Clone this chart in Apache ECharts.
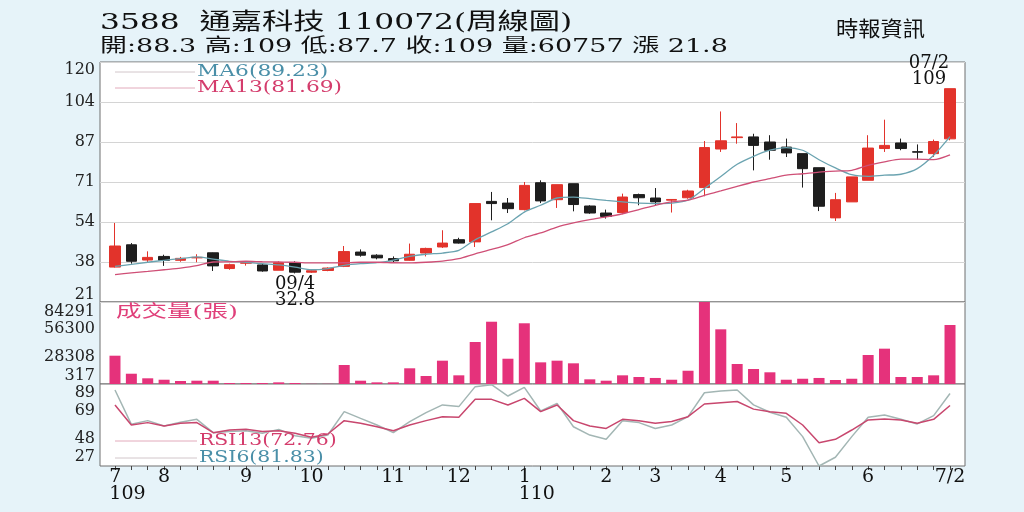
<!DOCTYPE html>
<html>
<head>
<meta charset="utf-8">
<script src="https://cdn.jsdelivr.net/npm/echarts@6/dist/echarts.min.js"></script>
<style>
html,body{margin:0;padding:0;background:#e6f3f9;}
#c{width:1024px;height:512px;}
</style>
</head>
<body>
<div id="c"></div>
<script>
// ---- data ----
const categories = [
 '109/07/10','109/07/17','109/07/24','109/07/31','109/08/07','109/08/14','109/08/21','109/08/28',
 '109/09/04','109/09/11','109/09/18','109/09/25','109/10/02','109/10/09','109/10/16','109/10/23','109/10/30',
 '109/11/06','109/11/13','109/11/20','109/11/27','109/12/04','109/12/11','109/12/18','109/12/25',
 '110/01/01','110/01/08','110/01/15','110/01/22','110/01/29','110/02/05','110/02/12','110/02/19','110/02/26',
 '110/03/05','110/03/12','110/03/19','110/03/26','110/04/02','110/04/09','110/04/16','110/04/23','110/04/30',
 '110/05/07','110/05/14','110/05/21','110/05/28','110/06/04','110/06/11','110/06/18','110/06/25','110/07/02'
];
const open  = [35.4,44.6,38.3,39.8,38.2,39.2,41.3,34.8,37.0,36.3,34.1,37.2,33.3,34.0,35.7,41.6,40.3,38.9,38.2,41.2,43.7,46.7,45.8,62.5,61.8,59.1,70.2,63.2,69.8,60.6,57.7,57.9,65.3,63.9,63.0,64.0,68.2,84.1,88.8,89.1,87.0,84.9,82.2,76.4,55.7,62.3,71.2,84.3,86.6,83.0,82.2,88.3];
const close = [44.1,37.8,39.4,38.2,39.0,39.4,35.9,36.4,37.2,33.8,37.2,33.3,33.9,35.0,41.8,40.3,39.2,38.0,40.7,43.1,45.3,45.3,61.6,61.6,59.5,69.1,62.7,69.4,61.2,57.7,56.3,64.3,64.0,62.3,63.3,66.8,84.7,87.5,89.1,85.6,83.6,82.5,76.0,60.5,63.2,72.6,84.5,85.6,84.3,82.8,87.2,109];
const low   = [35.2,36.8,37.1,35.9,37.6,37.4,33.8,34.3,36.0,33.5,34.1,32.8,33.0,33.7,35.4,39.7,38.6,37.5,38.0,39.8,43.3,45.1,43.7,54.7,57.7,58.8,61.8,59.8,58.4,57.4,55.4,57.2,60.9,60.9,57.9,63.6,64.6,82.9,86.3,75.3,79.7,80.8,68.2,58.5,54.4,62.3,71.2,82.9,83.6,79.7,80.8,87.7];
const high  = [53.6,45.3,41.9,40.5,39.6,40.7,41.4,36.8,37.9,36.8,37.8,37.8,34.2,35.3,44.1,42.7,40.7,39.8,45.1,43.4,50.6,47.5,61.6,66.4,63.9,70.5,71.2,69.4,69.8,60.9,59.1,65.7,65.7,68.0,63.4,67.3,87.4,99.6,94.8,90.4,89.8,88.4,82.2,76.4,66.0,72.6,89.8,96.2,88.4,86.0,88.0,109];
const ma6   = [35.7,36.5,37.4,38.2,38.9,39.6,38.7,37.8,37.4,36.8,36.3,35.4,34.3,34.8,36.1,36.8,37.2,38.3,39.8,40.7,41.2,42.3,46.7,49.9,53.3,58.1,60.9,63.9,64.3,63.6,62.9,62.3,61.8,61.6,61.8,63.0,67.8,72.8,77.8,81.1,83.6,84.7,83.6,79.7,76.3,73.5,72.8,73.3,73.7,76.0,81.5,89.23];
const ma13  = [32.3,33.0,33.6,34.3,35.0,36.0,37.5,37.6,37.8,37.6,37.5,37.4,37.1,37.1,37.2,37.4,37.4,37.2,37.1,37.4,37.9,38.9,40.9,42.7,44.7,47.5,49.5,51.9,53.6,55.0,56.1,57.4,59.1,60.9,62.3,63.0,65.0,66.8,68.7,70.5,71.9,73.3,73.9,74.6,75.0,75.3,77.4,78.8,79.9,79.9,79.7,81.69];
const volume = [29300,10850,6150,4700,3400,3700,3700,1300,1300,1300,2000,1300,500,500,19800,3700,2000,2000,16400,8500,24200,9200,43300,64100,26200,62500,22500,24200,21500,5100,3700,9200,7500,6500,4700,13900,84291,56300,20800,15700,12300,4700,5700,6500,4400,5700,30000,36500,7500,7500,9200,60757];
const rsi6  = [84.5,58.5,61.3,57.2,60.0,62.3,52.2,53.0,53.7,51.7,54.7,49.9,47.9,50.4,68.1,63.0,58.0,52.2,60.6,67.4,73.2,71.9,87.0,88.5,79.9,86.5,68.6,74.4,56.7,50.4,47.2,61.3,59.8,55.4,58.0,64.3,82.4,83.7,84.5,73.2,67.6,63.8,49.2,27.0,33.6,49.2,63.8,65.6,62.3,58.8,65.1,81.83];
const rsi13 = [73.1,58.0,59.8,57.2,59.3,59.8,52.2,54.2,54.7,53.0,53.7,51.7,48.7,51.2,61.3,59.3,56.6,53.7,58.0,61.3,64.3,63.8,77.4,77.4,73.1,78.1,68.1,73.1,61.3,57.2,55.4,62.3,61.3,59.3,60.6,64.3,73.9,74.9,75.8,70.0,68.1,66.8,58.0,44.6,47.2,54.2,61.8,62.6,61.8,59.3,62.3,72.76];
const priceTicks  = [21,38,54,71,87,104,120];
const volumeTicks = [317,28308,56300,84291];
const rsiTicks    = [27,48,69,89];
const monthTickIndex = [0,3,8,12,17,21,25,30,33,37,41,46,51];
const monthTickText  = ['7\n109','8','9','10','11','12','1\n110','2','3','4','5','6','7/2'];
const noteDates = ['09/4','07/2'];
const headerTitle = '3588  通嘉科技 110072(周線圖)';
const headerQuote = '開:88.3 高:109 低:87.7 收:109 量:60757 漲 21.8';
const sourceText = '時報資訊';
const maLegend = ['MA6(89.23)','MA13(81.69)'];
const rsiLegend = ['RSI13(72.76)','RSI6(81.83)'];
const volumeTitle = '成交量(張)';

// ---- chart ----
const chart = echarts.init(document.getElementById('c'));
const SERIF = '"DejaVu Serif","Noto Sans CJK TC"';
const FL = 100, FW = 865, DL = 106.8, DW = 851.4;
const panels = [{top:62,height:240},{top:302,height:82},{top:384,height:82}];
const grids = [];
panels.forEach(p => grids.push({left:FL,width:FW,top:p.top,height:p.height,show:true,backgroundColor:'#ffffff',borderColor:'#6e6e6e',borderWidth:1}));
panels.forEach(p => grids.push({left:DL,width:DW,top:p.top,height:p.height,show:false}));

function tickAxis(gridIndex, ticks, min, max, interval, split, padTop, padBot){
  const base = {fontFamily:'DejaVu Serif', fontSize:16, color:'#222'};
  return {
    type:'value', gridIndex, min, max, interval,
    axisLine:{show:false}, axisTick:{show:false},
    splitLine:{show:split, lineStyle:{color:'#d4d4d4', width:1}},
    axisLabel:Object.assign({}, base, {
      margin:5, showMinLabel:true, showMaxLabel:true,
      formatter:(v,i) => {
        if (i >= ticks.length) return '';
        const t = String(ticks[i]);
        if (i === 0) return '{b|' + t + '}';
        if (i === ticks.length - 1) return '{t|' + t + '}';
        return t;
      },
      rich:{
        t:Object.assign({}, base, {padding:[padTop,0,0,0]}),
        b:Object.assign({}, base, {padding:[0,0,padBot,0]})
      }
    })
  };
}

const lowIdx = low.indexOf(Math.min.apply(null, low));
const lastIdx = categories.length - 1;
const xLabelBase = {fontFamily:'DejaVu Serif', fontSize:19, color:'#111', lineHeight:17};

const option = {
  animation:false,
  backgroundColor:'#e6f3f9',
  grid:grids,
  xAxis:[
    {type:'value', gridIndex:0, show:false, min:0, max:1},
    {type:'value', gridIndex:1, show:false, min:0, max:1},
    {type:'value', gridIndex:2, show:false, min:0, max:1},
    {type:'category', gridIndex:3, data:categories, show:false},
    {type:'category', gridIndex:4, data:categories, show:false},
    {type:'category', gridIndex:5, data:categories,
      axisLine:{show:false},
      axisTick:{show:true, alignWithLabel:true, interval:0, length:4, lineStyle:{color:'#444'}},
      splitLine:{show:false},
      axisLabel:Object.assign({}, xLabelBase, {
        margin:3,
        interval:(i) => monthTickIndex.indexOf(i) >= 0,
        formatter:(v,i) => {
          const k = monthTickIndex.indexOf(i);
          if (k < 0) return '';
          const t = monthTickText[k];
          if (t.indexOf('\n') >= 0) return t.split('\n').map(s => '{m|' + s + '}').join('\n');
          return t;
        },
        rich:{m:Object.assign({}, xLabelBase, {align:'left', padding:[0,0,0,25]})}
      })
    }
  ],
  yAxis:[
    tickAxis(0, priceTicks, 21, 120, 16.5, true, 16, 14),
    tickAxis(1, volumeTicks, 317, 84291, (84291-317)/3, false, 20, 16),
    tickAxis(2, rsiTicks, 27, 89, 62/3, false, 18, 18),
    {type:'value', gridIndex:3, min:21, max:120, show:false},
    {type:'value', gridIndex:4, min:317, max:84291, show:false},
    {type:'value', gridIndex:5, min:27, max:89, show:false}
  ],
  series:[
    {
      type:'candlestick', xAxisIndex:3, yAxisIndex:3, barWidth:11,
      data:categories.map((c,i) => [open[i], close[i], low[i], high[i]]),
      itemStyle:{color:'#e2332b', color0:'#1e1e1e', borderColor:'#e2332b', borderColor0:'#1e1e1e', borderWidth:1},
      markPoint:{
        symbol:'circle', symbolSize:1, itemStyle:{color:'rgba(0,0,0,0)'},
        label:{show:true, fontFamily:'DejaVu Serif', fontSize:18, color:'#111', lineHeight:16},
        data:[
          {coord:[categories[lowIdx], low[lowIdx]], label:{position:'bottom', distance:2, formatter:noteDates[0] + '\n' + low[lowIdx]}},
          {coord:[categories[lastIdx], high[lastIdx]], label:{position:'top', distance:1, offset:[-21,0], formatter:noteDates[1] + '\n' + high[lastIdx]}}
        ]
      }
    },
    {type:'line', name:'MA6', xAxisIndex:3, yAxisIndex:3, data:ma6, symbol:'none', smooth:0.25, z:3, lineStyle:{color:'#6aa3b0', width:1.3}},
    {type:'line', name:'MA13', xAxisIndex:3, yAxisIndex:3, data:ma13, symbol:'none', smooth:0.25, z:3, lineStyle:{color:'#cf4f76', width:1.3}},
    {type:'bar', name:'volume', xAxisIndex:4, yAxisIndex:4, data:volume, barWidth:11, itemStyle:{color:'#e5327b'}},
    {type:'line', name:'RSI6', xAxisIndex:5, yAxisIndex:5, data:rsi6, symbol:'none', z:3, lineStyle:{color:'#a3b6b4', width:1.5}},
    {type:'line', name:'RSI13', xAxisIndex:5, yAxisIndex:5, data:rsi13, symbol:'none', z:3, lineStyle:{color:'#c8476e', width:1.5}}
  ],
  graphic:[
    {type:'text', x:100, y:23, scaleX:1.36, style:{text:headerTitle, font:'23px ' + SERIF, fill:'#111', textVerticalAlign:'middle', verticalAlign:'middle'}},
    {type:'text', x:100, y:47, scaleX:1.42, style:{text:headerQuote, font:'19px ' + SERIF, fill:'#111', textVerticalAlign:'middle', verticalAlign:'middle'}},
    {type:'text', x:836, y:28, scaleX:1.06, style:{text:sourceText, font:'21px "Noto Sans CJK TC"', fill:'#111', textVerticalAlign:'middle', verticalAlign:'middle'}},
    {type:'line', z:10, shape:{x1:115,y1:72,x2:195,y2:72}, style:{stroke:'#d2c6ca', lineWidth:1}},
    {type:'line', z:10, shape:{x1:115,y1:88,x2:195,y2:88}, style:{stroke:'#e2aabb', lineWidth:1}},
    {type:'text', z:10, x:197, y:72, scaleX:1.32, style:{text:maLegend[0], font:'16.5px ' + SERIF, fill:'#4a8fa8', textVerticalAlign:'middle', verticalAlign:'middle'}},
    {type:'text', z:10, x:197, y:88, scaleX:1.32, style:{text:maLegend[1], font:'16.5px ' + SERIF, fill:'#d43c6c', textVerticalAlign:'middle', verticalAlign:'middle'}},
    {type:'text', z:10, x:116, y:313, scaleX:1.5, style:{text:volumeTitle, font:'17px ' + SERIF, fill:'#e0407a', textVerticalAlign:'middle', verticalAlign:'middle'}},
    {type:'line', z:10, shape:{x1:115,y1:441,x2:197,y2:441}, style:{stroke:'#e2aabb', lineWidth:1}},
    {type:'line', z:10, shape:{x1:115,y1:458,x2:197,y2:458}, style:{stroke:'#d2c6ca', lineWidth:1}},
    {type:'text', z:10, x:199, y:441, scaleX:1.2, style:{text:rsiLegend[0], font:'17px ' + SERIF, fill:'#d43c6c', textVerticalAlign:'middle', verticalAlign:'middle'}},
    {type:'text', z:10, x:199, y:458, scaleX:1.2, style:{text:rsiLegend[1], font:'17px ' + SERIF, fill:'#4a8fa8', textVerticalAlign:'middle', verticalAlign:'middle'}}
  ]
};
chart.setOption(option);
</script>
</body>
</html>
